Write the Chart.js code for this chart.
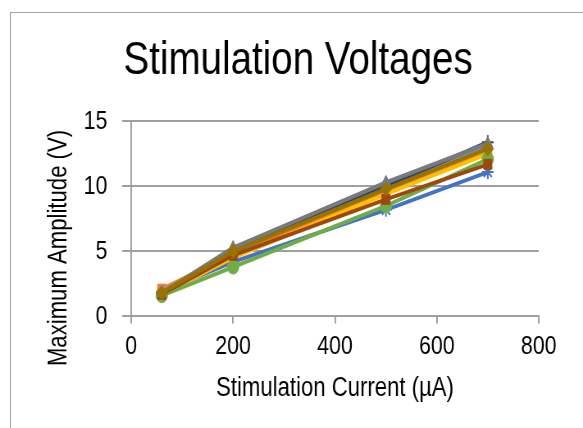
<!DOCTYPE html>
<html>
<head>
<meta charset="utf-8">
<script src="https://cdn.jsdelivr.net/npm/chart.js@4"></script>
<style>
    html, body { margin: 0; padding: 0; background: #fff; overflow: hidden; width: 583px; height: 428px; }
    #frame { position: absolute; left: 10px; top: 12px; width: 700px; height: 500px; border: 1px solid #a6a6a6; }
    /* the original uses a narrow face; squeeze a regular one horizontally */
    #chart { position: absolute; left: 0; top: 0; transform: scaleX(0.82); transform-origin: 0 0; }
</style>
</head>
<body>
<div id="frame"></div>
<canvas id="chart" width="711" height="428"></canvas>
<script>
const SQUEEZE = 0.82;

// Stimulation current (µA) at which each amplitude was measured
const currents = [60, 200, 500, 700];

// Maximum amplitude (V) per electrode / trial
const series1 = [1.9, 4.2, 8.2, 11.1];
const series2 = [2.1, 4.8, 9.7, 12.6];
const series3 = [1.8, 5.1, 10.2, 13.1];
const series4 = [1.7, 4.5, 9.4, 12.5];
const series5 = [1.9, 4.9, 10.3, 13.2];
const series6 = [1.6, 3.8, 8.5, 12.1];
const series7 = [1.8, 5.0, 10.0, 13.4];
const series8 = [1.7, 4.7, 9.0, 11.7];
const series9 = [1.8, 5.3, 10.3, 13.3];
const series10 = [1.8, 5.0, 9.8, 12.9];

const seriesNames = ['Series1', 'Series2', 'Series3', 'Series4', 'Series5',
    'Series6', 'Series7', 'Series8', 'Series9', 'Series10'];
const seriesValues = [series1, series2, series3, series4, series5,
    series6, series7, series8, series9, series10];

const xTicks = [0, 200, 400, 600, 800];
const yTicks = [0, 5, 10, 15];

// Office palette + marker shapes
const colors = ['#4472C4', '#ED7D31', '#A5A5A5', '#FFC000', '#5B9BD5',
    '#70AD47', '#264478', '#9E480E', '#7A7A7A', '#997300'];
const markers = ['star', 'rect', 'triangle', 'crossRot', 'triangle',
    'circle', 'cross', 'rect', 'triangle', 'rectRot'];

const FONT = "'Liberation Sans', Arial, sans-serif";

const datasets = seriesValues.map((vals, i) => ({
    label: seriesNames[i],
    data: vals.map((v, j) => ({ x: currents[j], y: v })),
    borderColor: colors[i],
    backgroundColor: colors[i],
    pointBackgroundColor: colors[i],
    pointBorderColor: colors[i],
    pointStyle: markers[i],
    pointRadius: 7,
    pointBorderWidth: ['star', 'cross', 'crossRot'].includes(markers[i]) ? 2 : 1,
    borderWidth: 4,
    tension: 0,
    // later series drawn on top, like the spreadsheet
    order: seriesNames.length - i
}));

// rotated y-axis title, placed like the original (sits lower than centre)
// the canvas is squeezed sideways, so undo that for the rotated text
const yTitlePlugin = {
    id: 'yTitle',
    afterDraw(chart) {
        const ctx = chart.ctx;
        ctx.save();
        ctx.translate(72, 248);
        ctx.rotate(-Math.PI / 2);
        ctx.scale(SQUEEZE, 1 / SQUEEZE);
        ctx.font = "27px " + FONT;
        ctx.fillStyle = '#000';
        ctx.textAlign = 'center';
        ctx.textBaseline = 'middle';
        ctx.fillText('Maximum Amplitude (V)', 0, 0);
        ctx.restore();
    }
};

new Chart(document.getElementById('chart').getContext('2d'), {
    type: 'line',
    data: { datasets: datasets },
    plugins: [yTitlePlugin],
    options: {
        responsive: false,
        animation: false,
        devicePixelRatio: 1,
        layout: { padding: { left: 70, right: 54, top: 0, bottom: 23 } },
        plugins: {
            legend: { display: false },
            tooltip: { enabled: false },
            title: {
                display: true,
                text: 'Stimulation Voltages',
                color: '#000',
                font: { family: FONT, size: 47, weight: 'normal', lineHeight: 1.2 },
                padding: { top: 33, bottom: 32 }
            }
        },
        scales: {
            x: {
                type: 'linear',
                min: 0,
                max: 800,
                afterBuildTicks: axis => { axis.ticks = xTicks.map(v => ({ value: v })); },
                ticks: {
                    color: '#000',
                    font: { family: FONT, size: 26, lineHeight: 1.2 },
                    padding: 8,
                    maxRotation: 0
                },
                grid: { drawOnChartArea: false, drawTicks: true, tickLength: 7, color: '#a0a0a0', lineWidth: 2 },
                border: { display: true, color: '#a0a0a0', width: 2 },
                title: {
                    display: true,
                    text: 'Stimulation Current (µA)',
                    color: '#000',
                    font: { family: FONT, size: 27, lineHeight: 1.2 },
                    padding: { top: 2, bottom: 0 }
                }
            },
            y: {
                min: 0,
                max: 15,
                afterBuildTicks: axis => { axis.ticks = yTicks.map(v => ({ value: v })); },
                afterFit: axis => { axis.width = 90; },
                ticks: {
                    color: '#000',
                    font: { family: FONT, size: 26, lineHeight: 1.2 },
                    padding: 18
                },
                grid: { color: '#a0a0a0', lineWidth: 2, tickLength: 11 },
                border: { display: true, color: '#a0a0a0', width: 2 }
            }
        }
    }
});
</script>
</body>
</html>
